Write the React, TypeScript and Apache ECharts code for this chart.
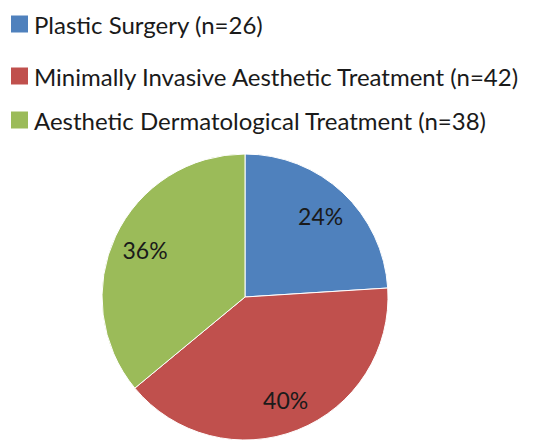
import React, { useEffect, useRef } from "react";
import * as echarts from "echarts";

// Treatment groups and their share of respondents (percent)
const groupNames = [
  "Plastic Surgery (n=26)",
  "Minimally Invasive Aesthetic Treatment (n=42)",
  "Aesthetic Dermatological Treatment (n=38)",
];
const groupShares = [24, 40, 36];
const groupColors = ["#4F81BD", "#C0504D", "#9BBB59"];

const FONT = "Lato";
const TEXT_COLOR = "#1a1a1a";

export default function App() {
  const ref = useRef<HTMLDivElement>(null);

  useEffect(() => {
    if (!ref.current) return;
    const chart = echarts.init(ref.current, undefined, { renderer: "svg" });

    const pieData = groupNames.map((name, i) => ({
      name,
      value: groupShares[i],
      itemStyle: { color: groupColors[i] },
    }));

    const legendTops = [12, 64, 108];

    chart.setOption({
      animation: false,
      backgroundColor: "#ffffff",
      legend: groupNames.map((name, i) => ({
        data: [name],
        left: 9,
        top: legendTops[i],
        padding: 0,
        orient: "vertical",
        icon: "rect",
        itemWidth: 19,
        itemHeight: 19,
        selectedMode: false,
        textStyle: {
          fontFamily: FONT,
          fontSize: 24,
          color: TEXT_COLOR,
          padding: [0, 0, 0, 0],
        },
      })),
      series: [
        {
          type: "pie",
          center: [245, 297],
          radius: [0, 143],
          startAngle: 90,
          clockwise: true,
          silent: true,
          label: { show: false },
          labelLine: { show: false },
          itemStyle: { borderColor: "#ffffff", borderWidth: 1 },
          data: pieData,
        },
        {
          // transparent ring used only to place the percentage labels
          type: "pie",
          center: [245, 297],
          radius: [72, 143],
          startAngle: 90,
          clockwise: true,
          silent: true,
          itemStyle: { color: "rgba(0,0,0,0)" },
          label: {
            show: true,
            position: "inside",
            formatter: "{c}%",
            fontFamily: FONT,
            fontSize: 23,
            color: TEXT_COLOR,
          },
          labelLine: { show: false },
          data: groupNames.map((name, i) => ({
            name,
            value: groupShares[i],
            itemStyle: { color: "rgba(0,0,0,0)" },
          })),
        },
      ],
    });

    return () => chart.dispose();
  }, []);

  return (
    <div
      ref={ref}
      style={{ position: "fixed", left: 0, top: 0, width: 536, height: 442 }}
    />
  );
}
